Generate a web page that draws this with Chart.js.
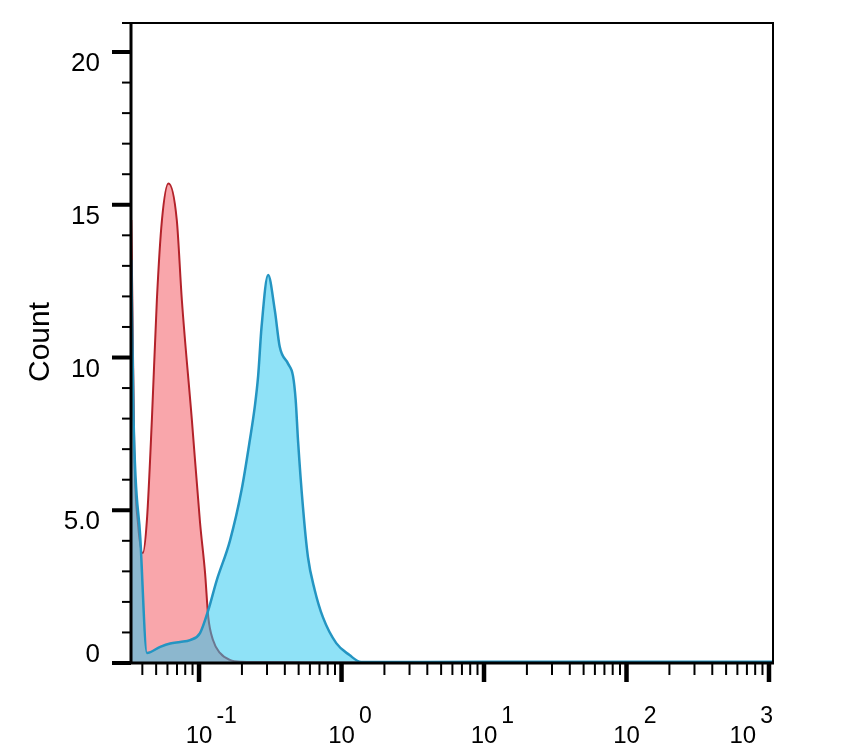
<!DOCTYPE html>
<html>
<head>
<meta charset="utf-8">
<script src="https://cdn.jsdelivr.net/npm/chart.js@4.4.1/dist/chart.umd.min.js"></script>
<style>
  html, body { margin: 0; padding: 0; background: #fff; }
  canvas { display: block; }
</style>
</head>
<body>
<canvas id="myChart" width="860" height="755"></canvas>
<script>
// Red histogram (control)
const redX = [0.03345, 0.034, 0.0351, 0.0374, 0.0403, 0.0431, 0.0467, 0.0506, 0.0549, 0.061, 0.0698, 0.0757, 0.0889, 0.1016, 0.1102, 0.1161, 0.1253, 0.1402, 0.1647, 0.194, 0.267, 1.5, 10, 100, 1067];
const redY = [14.5, 12, 7, 4.5, 3.6, 4.7, 8.0, 11.9, 14.5, 15.7, 14.5, 11.9, 8.0, 4.6, 2.95, 1.5, 0.75, 0.33, 0.1, 0.04, 0.03, 0.02, 0.02, 0.02, 0.02];

// Blue histogram (stained)
const blueX = [0.03345, 0.0347, 0.0387, 0.0431, 0.0534, 0.0627, 0.0737, 0.0865, 0.1016, 0.1161, 0.1329, 0.1647, 0.1988, 0.2273, 0.2463, 0.2599, 0.2746, 0.3052, 0.3401, 0.3684, 0.4211, 0.4564, 0.4768, 0.4948, 0.5362, 0.5811, 0.6475, 0.7399, 0.918, 1.137, 1.373, 10, 100, 1067];
const blueY = [13.2, 8.0, 4.1, 0.33, 0.53, 0.64, 0.69, 0.75, 0.98, 1.73, 2.7, 4.0, 5.66, 7.3, 8.4, 9.4, 11.0, 12.7, 11.55, 10.35, 9.8, 9.4, 8.6, 7.3, 5.1, 3.47, 2.4, 1.5, 0.65, 0.26, 0.03, 0.04, 0.04, 0.04];

// Axis ticks and labels
const yTicks = [0, 5, 10, 15, 20];
const yTickLabels = ["0", "5.0", "10", "15", "20"];
const xDecades = [-1, 0, 1, 2, 3];
const yTitle = "Count";

const xMin = 0.0333;
const xMax = 1067;
const yMax = 20.95;

const FONT = "'Liberation Sans', Arial, Helvetica, sans-serif";

// Turn the arrays into {x, y} points
const toPoints = (xs, ys) => xs.map((x, i) => ({ x: x, y: ys[i] }));

// Draws frame, ticks and labels like the cytometry software does
const axisPlugin = {
  id: "axisPlugin",
  afterDraw(chart) {
    const { ctx, chartArea, scales } = chart;
    const { left, right, top, bottom } = chartArea;
    ctx.save();
    ctx.strokeStyle = "#000";
    ctx.fillStyle = "#000";
    ctx.lineCap = "butt";

    // Frame top and right
    ctx.lineWidth = 2;
    ctx.beginPath();
    ctx.moveTo(left - 9, top);
    ctx.lineTo(right, top);
    ctx.lineTo(right, bottom);
    ctx.stroke();

    // Left and bottom axis lines
    ctx.lineWidth = 3;
    ctx.beginPath();
    ctx.moveTo(left, top);
    ctx.lineTo(left, bottom);
    ctx.moveTo(left - 19, bottom);
    ctx.lineTo(right + 1, bottom);
    ctx.stroke();

    // Y ticks, one per unit, long ones on labelled values
    for (let v = 0; v <= 20; v++) {
      const py = scales.y.getPixelForValue(v);
      const major = yTicks.includes(v);
      ctx.lineWidth = major ? 4 : 2;
      ctx.beginPath();
      ctx.moveTo(left - (major ? 19 : 9), py);
      ctx.lineTo(left, py);
      ctx.stroke();
    }

    // Y labels
    ctx.font = "26px " + FONT;
    ctx.textAlign = "right";
    ctx.textBaseline = "middle";
    yTicks.forEach((v, i) => {
      const py = scales.y.getPixelForValue(v);
      ctx.fillText(yTickLabels[i], left - 31, py + (v === 0 ? -8 : 12));
    });

    // X ticks, 1..9 per decade
    for (let e = -2; e <= 3; e++) {
      for (let m = 1; m <= 9; m++) {
        const v = m * Math.pow(10, e);
        if (v < xMin || v > xMax) continue;
        const px = scales.x.getPixelForValue(v);
        const major = m === 1;
        ctx.lineWidth = major ? 4.5 : 2;
        ctx.beginPath();
        ctx.moveTo(px, bottom);
        ctx.lineTo(px, bottom + (major ? 19 : 12));
        ctx.stroke();
      }
    }

    // X labels: 10 with a raised exponent
    xDecades.forEach((e) => {
      const px = scales.x.getPixelForValue(Math.pow(10, e));
      ctx.font = "24px " + FONT;
      const baseW = ctx.measureText("10").width;
      ctx.font = "23px " + FONT;
      const expW = ctx.measureText(String(e)).width;
      let cx = px;
      // keep the last label inside the frame
      const end = cx + baseW / 2 + 4 + expW;
      if (end > right) cx -= end - right;
      ctx.textBaseline = "alphabetic";
      ctx.textAlign = "center";
      ctx.font = "24px " + FONT;
      ctx.fillText("10", cx, 743);
      ctx.textAlign = "left";
      ctx.font = "23px " + FONT;
      ctx.fillText(String(e), cx + baseW / 2 + 4, 723);
    });

    // Y title
    ctx.save();
    ctx.translate(41, 342);
    ctx.rotate(-Math.PI / 2);
    ctx.font = "30px " + FONT;
    ctx.textAlign = "center";
    ctx.textBaseline = "middle";
    ctx.fillText(yTitle, 0, 0);
    ctx.restore();

    ctx.restore();
  },
};

// Set chart data
const data = {
  datasets: [
    {
      label: "stained",
      data: toPoints(blueX, blueY),
      borderColor: "#2495c2",
      borderWidth: 2.5,
      backgroundColor: "rgba(40, 200, 240, 0.52)",
      fill: "origin",
      pointRadius: 0,
      cubicInterpolationMode: "monotone",
    },
    {
      label: "control",
      data: toPoints(redX, redY),
      borderColor: "#b3222a",
      borderWidth: 2,
      backgroundColor: "rgba(248, 150, 156, 0.85)",
      fill: "origin",
      pointRadius: 0,
      cubicInterpolationMode: "monotone",
    },
  ],
};

// Set chart config
const config = {
  type: "line",
  data: data,
  options: {
    responsive: false,
    animation: false,
    devicePixelRatio: 1,
    layout: {
      padding: { left: 131, top: 23, right: 87, bottom: 92 },
    },
    scales: {
      x: {
        type: "logarithmic",
        min: xMin,
        max: xMax,
        display: false,
      },
      y: {
        type: "linear",
        min: 0,
        max: yMax,
        display: false,
      },
    },
    plugins: {
      legend: { display: false },
      tooltip: { enabled: false },
    },
  },
  plugins: [axisPlugin],
};

const ctx = document.getElementById("myChart").getContext("2d");
new Chart(ctx, config);
</script>
</body>
</html>
